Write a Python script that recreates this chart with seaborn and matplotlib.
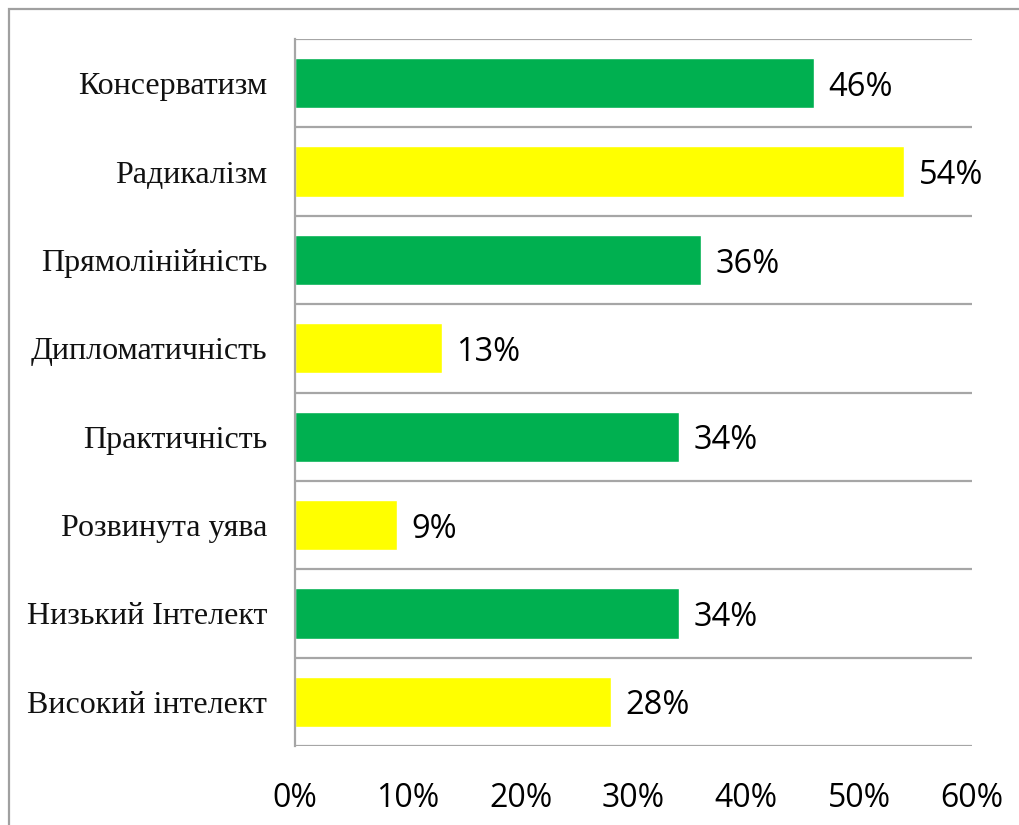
import matplotlib
matplotlib.use("Agg")
import matplotlib.pyplot as plt
from matplotlib.patches import Rectangle
from matplotlib.ticker import FixedLocator, PercentFormatter
import seaborn as sns
import pandas as pd
import numpy as np

categories = [
    "Консерватизм",
    "Радикалізм",
    "Прямолінійність",
    "Дипломатичність",
    "Практичність",
    "Розвинута уява",
    "Низький Інтелект",
    "Високий інтелект",
]
values = [46, 54, 36, 13, 34, 9, 34, 28]
bar_colors = ["#00B050", "#FFFF00", "#00B050", "#FFFF00",
              "#00B050", "#FFFF00", "#00B050", "#FFFF00"]
x_ticks = [0, 10, 20, 30, 40, 50, 60]

df = pd.DataFrame({"category": categories, "value": values})

sns.set_theme(style="white")
plt.rcParams["font.family"] = ["Open Sans", "DejaVu Sans"]

fig = plt.figure(figsize=(10.2, 8.25), dpi=100)
ax = fig.add_axes([295 / 1020, 1 - 746 / 825, (972 - 295) / 1020, (746 - 39) / 825])

sns.barplot(data=df, x="value", y="category", hue="category",
            palette=bar_colors, orient="h", width=0.57, legend=False,
            saturation=1, ax=ax)

grid_color = "#A6A6A6"
ax.set_xlim(0, 60)
ax.set_ylim(len(categories) - 0.5, -0.5)

# separators between categories
for b in np.arange(-0.5, len(categories), 1.0):
    ax.axhline(b, color=grid_color, lw=1.6, zorder=0)

for side in ["top", "right", "bottom"]:
    ax.spines[side].set_visible(False)
ax.spines["left"].set_color(grid_color)
ax.spines["left"].set_linewidth(1.6)

ax.xaxis.set_major_locator(FixedLocator(x_ticks))
ax.xaxis.set_major_formatter(PercentFormatter(decimals=0))
ax.tick_params(axis="x", length=0, pad=26, labelsize=23, labelcolor="black")
ax.tick_params(axis="y", length=0, pad=20, labelsize=23)
for lbl in ax.get_yticklabels():
    lbl.set_fontfamily("Liberation Serif")
    lbl.set_color("#111111")
ax.set_xlabel("")
ax.set_ylabel("")

for i, v in enumerate(values):
    ax.annotate(f"{v}%", xy=(v, i), xytext=(10.5, -3), textcoords="offset points",
                va="center", ha="left", fontsize=23.5, color="black")

fig.add_artist(Rectangle((9 / 1020, -0.05), 1.2, 1.05 - 9 / 825,
                         transform=fig.transFigure, fill=False,
                         edgecolor="#A0A0A0", lw=1.6))

fig.savefig("out.png", dpi=100, facecolor="white")
